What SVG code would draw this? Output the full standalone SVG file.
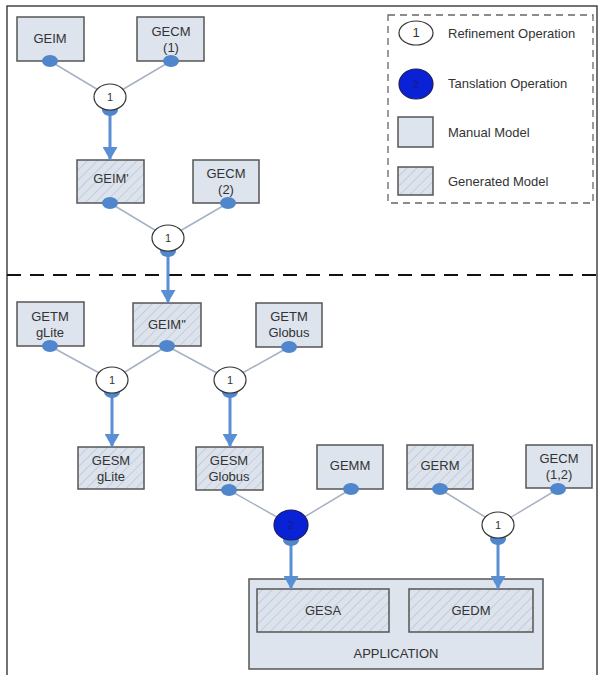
<svg xmlns="http://www.w3.org/2000/svg" width="598" height="675" viewBox="0 0 598 675">
<defs>
<pattern id="hatch" patternUnits="userSpaceOnUse" width="7" height="7" patternTransform="rotate(45)">
<rect width="7" height="7" fill="#dce3ed"/>
<line x1="0" y1="0" x2="0" y2="7" stroke="#c4ccd8" stroke-width="2"/>
</pattern>
<marker id="ah" markerUnits="userSpaceOnUse" markerWidth="15" markerHeight="15" refX="13" refY="7.5" orient="auto">
<path d="M0,0 L13,7.5 L0,15 z" fill="#5b8fd4"/>
</marker>
<style>
.box{fill:#dde4ee;stroke:#555;stroke-width:1.5}
.gen{fill:url(#hatch);stroke:#555;stroke-width:1.5}
.t{font-family:"Liberation Sans",Arial,sans-serif;font-size:13px;fill:#333;text-anchor:middle}
.lt{font-family:"Liberation Sans",Arial,sans-serif;font-size:13px;fill:#333}
.op{fill:#fff;stroke:#333;stroke-width:1.2}
.op2{fill:#0a22d6;stroke:#1a1a5a;stroke-width:1.2}
.ln{stroke:#a6b2c4;stroke-width:1.5;fill:none}
.ar{stroke:#5b8fd4;stroke-width:3;fill:none}
.dot{fill:#4f86cc}
</style>
</defs>
<g id="frame" fill="none" stroke="#444" stroke-width="1.5">
<path d="M7,675 L7,6 L597,6 L597,675"/>
<line x1="7" y1="275" x2="597" y2="275" stroke="#111" stroke-width="2" stroke-dasharray="14,9"/>
</g>
<g id="legend">
<rect x="388" y="15" width="205" height="188" fill="none" stroke="#666" stroke-width="1.3" stroke-dasharray="7,5"/>
<ellipse cx="416" cy="33" rx="17" ry="12" class="op"/>
<text x="416" y="37" class="t" font-size="11">1</text>
<text x="448" y="38" class="lt">Refinement Operation</text>
<ellipse cx="416" cy="84" rx="17" ry="15" class="op2"/>
<text x="416" y="88" class="t" style="fill:#10207a;font-size:11px">2</text>
<text x="448" y="88" class="lt">Tanslation Operation</text>
<rect x="398" y="117" width="35" height="30" class="box"/>
<text x="448" y="137" class="lt">Manual Model</text>
<rect x="398" y="167" width="35" height="28" class="gen"/>
<text x="448" y="186" class="lt">Generated Model</text>
</g>
<g id="n-geim"><rect x="17" y="17" width="67" height="44" class="box"/><text x="50" y="43" class="t">GEIM</text></g>
<g id="n-gecm1"><rect x="137" y="17" width="67" height="44" class="box"/><text x="171" y="36" class="t">GECM</text><text x="171" y="52" class="t">(1)</text></g>
<g id="n-geim1"><rect x="77" y="160" width="67" height="43" class="gen"/><text x="111" y="183" class="t">GEIM'</text></g>
<g id="n-gecm2"><rect x="193" y="160" width="66" height="43" class="box"/><text x="226" y="178" class="t">GECM</text><text x="226" y="194" class="t">(2)</text></g>
<g id="n-getmglite"><rect x="17" y="302" width="67" height="44" class="box"/><text x="50" y="321" class="t">GETM</text><text x="50" y="337" class="t">gLite</text></g>
<g id="n-geim2"><rect x="133" y="303" width="68" height="43" class="gen"/><text x="167" y="329" class="t">GEIM''</text></g>
<g id="n-getmglobus"><rect x="256" y="303" width="66" height="44" class="box"/><text x="289" y="321" class="t">GETM</text><text x="289" y="337" class="t">Globus</text></g>
<g id="n-gesmglite"><rect x="78" y="447" width="66" height="42" class="gen"/><text x="111" y="465" class="t">GESM</text><text x="111" y="481" class="t">gLite</text></g>
<g id="n-gesmglobus"><rect x="196" y="447" width="67" height="43" class="gen"/><text x="229" y="465" class="t">GESM</text><text x="229" y="481" class="t">Globus</text></g>
<g id="n-gemm"><rect x="317" y="445" width="66" height="44" class="box"/><text x="350" y="470" class="t">GEMM</text></g>
<g id="n-germ"><rect x="407" y="445" width="66" height="44" class="gen"/><text x="440" y="470" class="t">GERM</text></g>
<g id="n-gecm12"><rect x="526" y="445" width="66" height="43" class="box"/><text x="559" y="463" class="t">GECM</text><text x="559" y="479" class="t">(1,2)</text></g>
<g id="n-application">
<rect x="249" y="579" width="294" height="90" class="box"/>
<text x="396" y="658" class="t">APPLICATION</text>
</g>
<g id="n-gesa"><rect x="257" y="589" width="132" height="43" class="gen"/><text x="323" y="615" class="t">GESA</text></g>
<g id="n-gedm"><rect x="409" y="589" width="124" height="43" class="gen"/><text x="471" y="615" class="t">GEDM</text></g>
<g id="connectors">
<path class="ln" d="M50,61 L110,97 M171,61 L110,97 M110,203 L168,238 M228,203 L168,238 M50,346 L112,380 M167,346 L112,380 M167,346 L230,380 M289,347 L230,380 M229,490 L291,525 M351,489 L291,525 M440,489 L498,525 M558,489 L498,525"/>
<line class="ar" x1="110" y1="110" x2="110" y2="160" marker-end="url(#ah)"/>
<line class="ar" x1="168" y1="251" x2="168" y2="303" marker-end="url(#ah)"/>
<line class="ar" x1="112" y1="392" x2="112" y2="447" marker-end="url(#ah)"/>
<line class="ar" x1="230" y1="392" x2="230" y2="447" marker-end="url(#ah)"/>
<line class="ar" x1="291" y1="540" x2="291" y2="589" marker-end="url(#ah)"/>
<line class="ar" x1="498" y1="539" x2="498" y2="589" marker-end="url(#ah)"/>
<ellipse class="dot" cx="50" cy="61" rx="8" ry="6"/>
<ellipse class="dot" cx="171" cy="61" rx="8" ry="6"/>
<ellipse class="dot" cx="110" cy="203" rx="8" ry="6"/>
<ellipse class="dot" cx="228" cy="203" rx="8" ry="6"/>
<ellipse class="dot" cx="50" cy="346" rx="8" ry="6"/>
<ellipse class="dot" cx="167" cy="346" rx="8" ry="6"/>
<ellipse class="dot" cx="289" cy="347" rx="8" ry="6"/>
<ellipse class="dot" cx="229" cy="490" rx="8" ry="6"/>
<ellipse class="dot" cx="351" cy="489" rx="8" ry="6"/>
<ellipse class="dot" cx="440" cy="489" rx="8" ry="6"/>
<ellipse class="dot" cx="558" cy="489" rx="8" ry="6"/>
<ellipse class="dot" cx="110" cy="110" rx="8" ry="6"/>
<ellipse class="dot" cx="168" cy="251" rx="8" ry="6"/>
<ellipse class="dot" cx="112" cy="392" rx="8" ry="6"/>
<ellipse class="dot" cx="230" cy="392" rx="8" ry="6"/>
<ellipse class="dot" cx="291" cy="540" rx="8" ry="6"/>
<ellipse class="dot" cx="498" cy="539" rx="8" ry="6"/>
</g>
<g id="op1"><ellipse cx="110" cy="97" rx="16" ry="13" class="op"/><text x="110" y="101" class="t" style="font-size:11px">1</text></g>
<g id="op2"><ellipse cx="168" cy="238" rx="16" ry="13" class="op"/><text x="168" y="242" class="t" style="font-size:11px">1</text></g>
<g id="op3"><ellipse cx="112" cy="380" rx="16" ry="13" class="op"/><text x="112" y="384" class="t" style="font-size:11px">1</text></g>
<g id="op4"><ellipse cx="230" cy="380" rx="16" ry="13" class="op"/><text x="230" y="384" class="t" style="font-size:11px">1</text></g>
<g id="op5"><ellipse cx="291" cy="525" rx="17" ry="15" class="op2"/><text x="291" y="529" class="t" style="fill:#10207a;font-size:11px">2</text></g>
<g id="op6"><ellipse cx="498" cy="525" rx="16" ry="13" class="op"/><text x="498" y="529" class="t" style="font-size:11px">1</text></g>
</svg>
